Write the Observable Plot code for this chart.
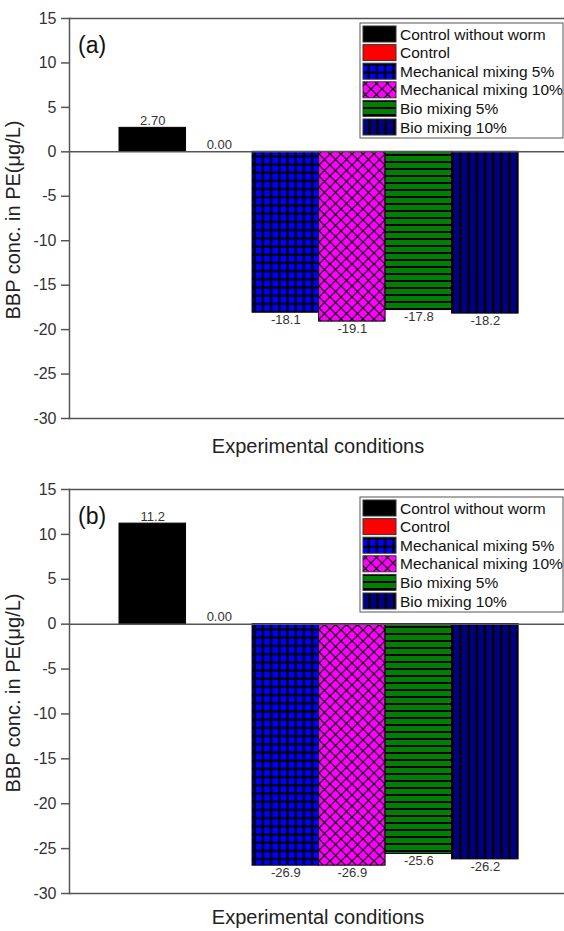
<!DOCTYPE html>
<html>
<head>
<meta charset="utf-8">
<script src="https://cdn.jsdelivr.net/npm/d3@7"></script>
<script src="https://cdn.jsdelivr.net/npm/@observablehq/plot@0.6"></script>
<style>
  html, body { margin: 0; padding: 0; background: #fff; }
  body { width: 564px; font-family: Arial, "Liberation Sans", sans-serif; }
  svg.plot { display: block; }
  svg.plot g[aria-label="y-axis tick label"] { font-size: 16px; }
</style>
</head>
<body>
<svg width="0" height="0" style="position:absolute">
  <defs>
    <pattern id="pGrid" patternUnits="userSpaceOnUse" width="8.2" height="8.2">
      <rect width="8.2" height="8.2" fill="#000"/>
      <rect x="1.6" y="1.6" width="6" height="6" fill="#0000ff"/>
    </pattern>
    <pattern id="pCross" patternUnits="userSpaceOnUse" width="11" height="11">
      <rect width="11" height="11" fill="#ff00ff"/>
      <path d="M0,0L11,11M11,0L0,11" stroke="#000" stroke-width="1.2"/>
    </pattern>
    <pattern id="pHoriz" patternUnits="userSpaceOnUse" width="8" height="7">
      <rect width="8" height="7" fill="#008000"/>
      <rect y="0" width="8" height="2" fill="#000"/>
    </pattern>
    <pattern id="pVert" patternUnits="userSpaceOnUse" width="8.2" height="8">
      <rect width="8.2" height="8" fill="#000080"/>
      <rect x="0" width="2.4" height="8" fill="#000"/>
    </pattern>
  </defs>
</svg>
<div id="chart"></div>
<script>
// ---- data ----
const conditions = ["Control without worm", "Control", "Mechanical mixing 5%", "Mechanical mixing 10%", "Bio mixing 5%", "Bio mixing 10%"];
const fills = ["#000000", "#ff0000", "url(#pGrid)", "url(#pCross)", "url(#pHoriz)", "url(#pVert)"];
const valuesA = [2.70, 0.00, -18.1, -19.1, -17.8, -18.2];
const valuesB = [11.2, 0.00, -26.9, -26.9, -25.6, -26.2];
const yTicks = [-30, -25, -20, -15, -10, -5, 0, 5, 10, 15];
const panelLabels = ["(a)", "(b)"];
const yTitle = "BBP conc. in PE(\u03bcg/L)";
const xTitle = "Experimental conditions";

const fmt = d3.formatLocale({decimal: ".", thousands: ",", grouping: [3], currency: ["", ""], minus: "-"}).format(".3r");
const FONT = 'Arial, "Liberation Sans", sans-serif';
const LINE = "#555";

function panel(values, label, opts) {
  const data = values.map((v, i) => ({i, v, cond: conditions[i], fill: fills[i]}));
  const W = 564;
  const chart = Plot.plot({
    width: W, height: opts.height,
    marginLeft: 69, marginRight: 0, marginTop: opts.mt, marginBottom: opts.mb,
    style: {fontFamily: FONT, background: "white"},
    x: {domain: [-0.752, 6.69], axis: null},
    y: {domain: [-30, 15], axis: null},
    color: {type: "identity"},
    marks: [
      Plot.rect(data, {x1: "i", x2: d => d.i + 1, y1: 0, y2: "v", fill: "fill", stroke: "#000", strokeWidth: 1}),
      Plot.ruleY([0], {stroke: LINE, strokeWidth: 1.5}),
      Plot.frame({anchor: "top", stroke: LINE, strokeWidth: 1.5}),
      Plot.frame({anchor: "bottom", stroke: LINE, strokeWidth: 1.5}),
      Plot.frame({anchor: "left", stroke: LINE, strokeWidth: 1.5}),
      Plot.axisY({ticks: yTicks, tickSize: 8, tickPadding: 5, tickFormat: d => String(d), label: null,
                  fontSize: 16, fill: "#333", stroke: LINE, strokeWidth: 1.5}),
      Plot.text(data.filter(d => d.v >= 0), {x: d => d.i + 0.5, y: "v", text: d => fmt(d.v),
                  lineAnchor: "bottom", dy: -3, fontSize: 13, fill: "#333"}),
      Plot.text(data.filter(d => d.v < 0), {x: d => d.i + 0.5, y: "v", text: d => fmt(d.v),
                  lineAnchor: "top", dy: 2, fontSize: 13, fill: "#333"})
    ]
  });
  chart.classList.add("plot");
  const svg = d3.select(chart);
  const H = opts.height;
  const plotTop = opts.mt, plotBottom = H - opts.mb;
  // panel label
  svg.append("text").attr("x", 78).attr("y", plotTop + 35).attr("font-size", 23)
     .attr("text-anchor", "start").attr("font-family", FONT).attr("fill", "#111").text(label);
  // y title
  svg.append("text").attr("transform", `translate(20,${(plotTop + plotBottom) / 2 + 2}) rotate(-90)`)
     .attr("text-anchor", "middle").attr("font-size", 20).attr("font-family", FONT).attr("fill", "#222")
     .text(yTitle);
  // x title
  svg.append("text").attr("x", 318).attr("y", opts.xTitleY).attr("text-anchor", "middle")
     .attr("font-size", 20).attr("font-family", FONT).attr("fill", "#222").text(xTitle);
  // legend
  const lg = svg.append("g").attr("transform", `translate(360,${opts.legendTop})`);
  lg.append("rect").attr("width", 203).attr("height", 115).attr("fill", "white")
    .attr("stroke", LINE).attr("stroke-width", 1);
  conditions.forEach((c, k) => {
    const y0 = 3 + k * 18.6;
    lg.append("rect").attr("x", 3).attr("y", y0).attr("width", 33).attr("height", 16)
      .attr("fill", fills[k]).attr("stroke", "#333").attr("stroke-width", 1);
    lg.append("text").attr("x", 40).attr("y", y0 + 13.5).attr("font-size", 15.5)
      .attr("text-anchor", "start").attr("font-family", FONT).attr("fill", "#111").text(c);
  });
  return chart;
}

const root = document.getElementById("chart");
root.appendChild(panel(valuesA, panelLabels[0], {height: 465, mt: 18, mb: 47, xTitleY: 453, legendTop: 23}));
root.appendChild(panel(valuesB, panelLabels[1], {height: 466, mt: 24, mb: 38, xTitleY: 459, legendTop: 32}));
</script>
</body>
</html>
